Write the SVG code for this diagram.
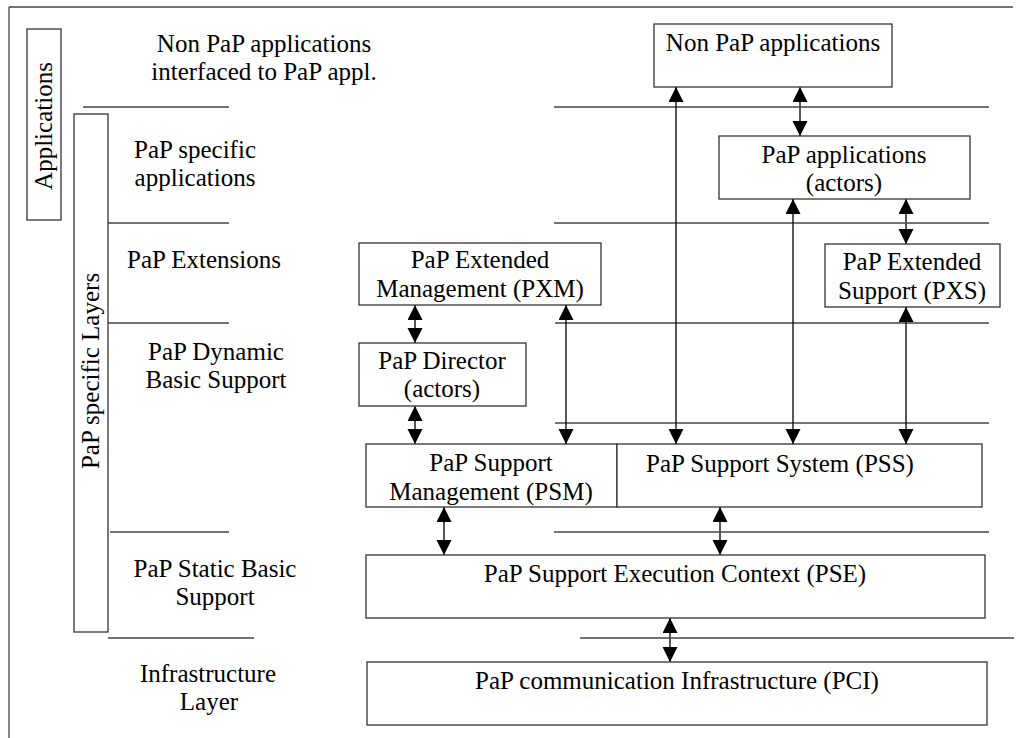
<svg xmlns="http://www.w3.org/2000/svg" width="1016" height="738" viewBox="0 0 1016 738">
<style>
text{font-family:"Liberation Serif","Times New Roman",serif;font-size:25px;fill:#000;text-anchor:middle}
.box{fill:#fff;stroke:#333;stroke-width:1.3}
.sep{stroke:#444;stroke-width:1.3;fill:none}
.arr{stroke:#111;stroke-width:1.4;fill:none;marker-start:url(#ah);marker-end:url(#ah)}
.sh{stroke:#555;stroke-width:2;fill:none;marker-start:url(#ah);marker-end:url(#ah)}
</style>
<defs>
<marker id="ah" markerUnits="userSpaceOnUse" markerWidth="16" markerHeight="16" refX="15" refY="7.5" orient="auto-start-reverse" viewBox="0 0 16 16">
<path d="M0,0 L15,7.5 L0,15 z" fill="#000"/>
</marker>
</defs>
<g id="frame">
<line x1="9" y1="7" x2="1013" y2="7" class="sep" stroke="#222"/>
<line x1="9" y1="7" x2="9" y2="738" class="sep" stroke="#222"/>
</g>
<g id="separators">
<line class="sep" x1="83" y1="107" x2="229" y2="107"/>
<line class="sep" x1="554" y1="107" x2="989" y2="107"/>
<line class="sep" x1="108" y1="223" x2="229" y2="223"/>
<line class="sep" x1="554" y1="223" x2="989" y2="223"/>
<line class="sep" x1="108" y1="323" x2="229" y2="323"/>
<line class="sep" x1="555" y1="323" x2="989" y2="323"/>
<line class="sep" x1="555" y1="423" x2="989" y2="423"/>
<line class="sep" x1="110" y1="532" x2="229" y2="532"/>
<line class="sep" x1="554" y1="532" x2="989" y2="532"/>
<line class="sep" x1="108" y1="638" x2="254" y2="638"/>
<line class="sep" x1="580" y1="638" x2="1014" y2="638"/>
</g>
<g id="side-applications">
<rect class="box" x="27" y="29" width="34" height="191"/>
<text transform="translate(52,126) rotate(-90)">Applications</text>
</g>
<g id="side-pap-layers">
<rect class="box" x="74" y="114" width="34" height="518"/>
<text transform="translate(99,371) rotate(-90)">PaP specific Layers</text>
</g>
<g id="layer-labels">
<text x="264" y="52">Non PaP applications</text>
<text x="264" y="80">interfaced to PaP appl.</text>
<text x="195" y="158">PaP specific</text>
<text x="195" y="186">applications</text>
<text x="204" y="268">PaP Extensions</text>
<text x="216" y="360">PaP Dynamic</text>
<text x="216" y="388">Basic Support</text>
<text x="215" y="577">PaP Static Basic</text>
<text x="215" y="605">Support</text>
<text x="208" y="682">Infrastructure</text>
<text x="209" y="710">Layer</text>
</g>
<g id="non-pap-apps">
<rect class="box" x="654" y="24" width="238" height="63"/>
<text x="773" y="51">Non PaP applications</text>
</g>
<g id="pap-apps">
<rect class="box" x="719" y="136" width="251" height="63"/>
<text x="844" y="163">PaP applications</text>
<text x="844" y="191">(actors)</text>
</g>
<g id="pxs">
<rect class="box" x="825" y="244" width="175" height="63"/>
<text x="912" y="270">PaP Extended</text>
<text x="912" y="299">Support (PXS)</text>
</g>
<g id="pxm">
<rect class="box" x="359" y="243" width="242" height="62"/>
<text x="480" y="268">PaP Extended</text>
<text x="480" y="297">Management (PXM)</text>
</g>
<g id="director">
<rect class="box" x="359" y="343" width="167" height="63"/>
<text x="442" y="369">PaP Director</text>
<text x="442" y="397">(actors)</text>
</g>
<g id="psm">
<rect class="box" x="366" y="444" width="251" height="63"/>
<text x="491" y="471">PaP Support</text>
<text x="491" y="500">Management (PSM)</text>
</g>
<g id="pss">
<rect class="box" x="617" y="444" width="365" height="63"/>
<text x="780" y="472">PaP Support System (PSS)</text>
</g>
<g id="pse">
<rect class="box" x="366" y="555" width="619" height="63"/>
<text x="675" y="582">PaP Support Execution Context (PSE)</text>
</g>
<g id="pci">
<rect class="box" x="367" y="662" width="620" height="63"/>
<text x="677" y="689">PaP communication Infrastructure (PCI)</text>
</g>
<g id="connectors">
<line class="arr" x1="676" y1="87" x2="676" y2="444"/>
<line class="sh" x1="800" y1="87" x2="800" y2="136"/>
<line class="arr" x1="793" y1="199" x2="793" y2="444"/>
<line class="sh" x1="906" y1="199" x2="906" y2="244"/>
<line class="arr" x1="906" y1="307" x2="906" y2="444"/>
<line class="arr" x1="566" y1="305" x2="566" y2="444"/>
<line class="sh" x1="415" y1="305" x2="415" y2="343"/>
<line class="sh" x1="415" y1="406" x2="415" y2="444"/>
<line class="sh" x1="444" y1="507" x2="444" y2="555"/>
<line class="sh" x1="720" y1="507" x2="720" y2="555"/>
<line class="sh" x1="670" y1="618" x2="670" y2="662"/>
</g>
</svg>
